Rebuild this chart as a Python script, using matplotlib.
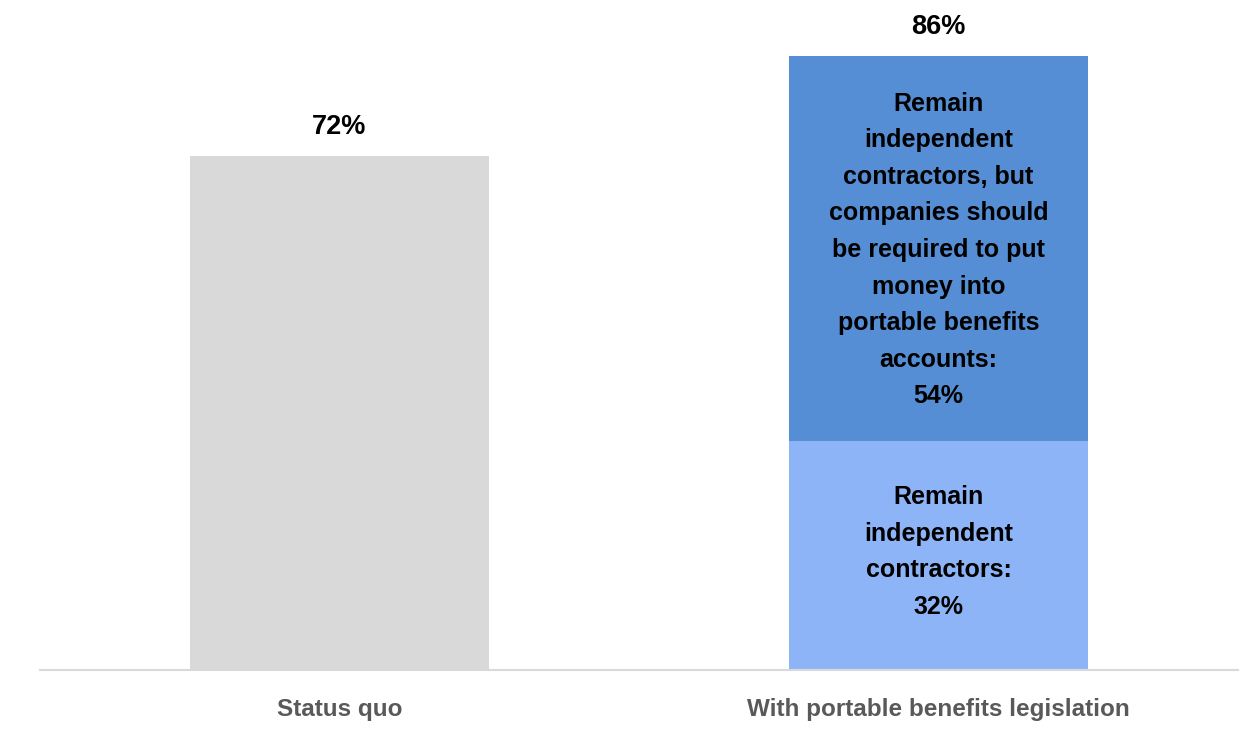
import matplotlib
matplotlib.use("Agg")
import matplotlib.pyplot as plt

plt.rcParams['font.family'] = ['Liberation Sans Narrow', 'Liberation Sans', 'DejaVu Sans']
plt.rcParams['font.weight'] = 'bold'

categories = ['Status quo', 'With portable benefits legislation']
status_quo = [72]
remain_ic = 32
remain_ic_benefits = 54
totals = [72, remain_ic + remain_ic_benefits]

seg_labels = ['Remain\nindependent\ncontractors:\n32%',
              'Remain\nindependent\ncontractors, but\ncompanies should\nbe required to put\nmoney into\nportable benefits\naccounts:\n54%']

fig = plt.figure(figsize=(12.49, 7.55), dpi=100)
ax = fig.add_axes([40 / 1249, 1 - 670 / 755, (1238 - 40) / 1249, 670 / 755])

w = 0.5
ax.bar(0, status_quo[0], width=w, color='#D9D9D9')
ax.bar(1, remain_ic, width=w, color='#8EB4F8')
ax.bar(1, remain_ic_benefits, width=w, bottom=remain_ic, color='#558ED5')

# totals above each bar
for i, t in enumerate(totals):
    ax.annotate(f'{t}%', (i, t), xytext=(0, 21), textcoords='offset points',
                ha='center', va='center', fontsize=19.5, fontweight='bold', color='black')

# labels inside the stacked segments
ax.text(1, remain_ic / 2 + 0.5, seg_labels[0], ha='center', va='center',
        fontsize=18, fontweight='bold', linespacing=1.66)
ax.text(1, remain_ic + remain_ic_benefits / 2 - 0.2, seg_labels[1], ha='center', va='center',
        fontsize=18, fontweight='bold', linespacing=1.66)

ax.set_xlim(-0.5, 1.5)
ax.set_ylim(0, 93.8)
ax.set_xticks([0, 1])
ax.set_xticklabels(categories, fontsize=17.5, fontweight='bold', color='#595959')
ax.tick_params(axis='x', length=0, pad=20)
ax.set_yticks([])
for s in ['top', 'right', 'left']:
    ax.spines[s].set_visible(False)
ax.spines['bottom'].set_color('#D9D9D9')
ax.spines['bottom'].set_linewidth(1.5)

fig.savefig('out.png', dpi=100)
